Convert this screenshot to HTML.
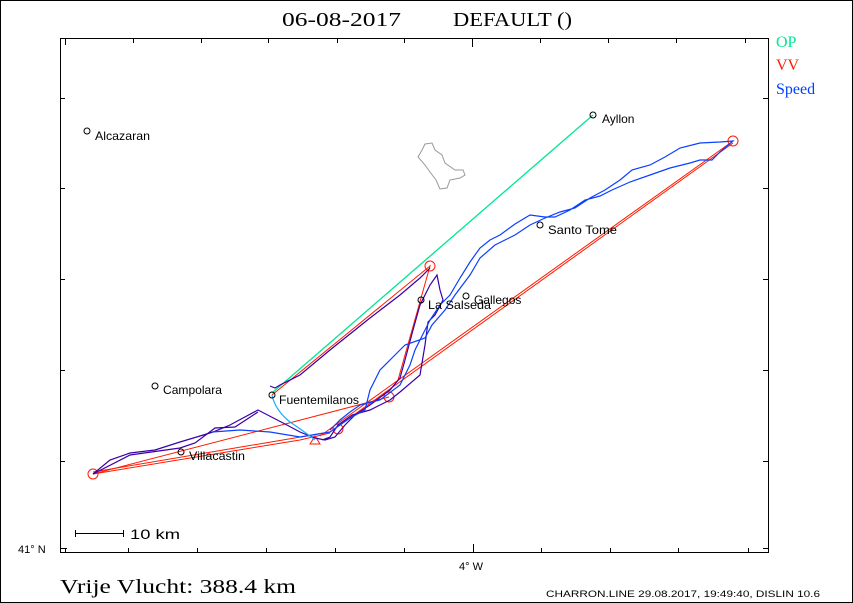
<!DOCTYPE html>
<html><head><meta charset="utf-8"><style>
html,body{margin:0;padding:0;background:#fff}
svg{display:block}
text{font-family:"Liberation Sans",sans-serif}
.s{font-family:"Liberation Serif",serif}
</style></head><body>
<svg width="853" height="603" viewBox="0 0 853 603" xmlns="http://www.w3.org/2000/svg">
<rect x="0.5" y="0.5" width="852" height="602" fill="#fff" stroke="#000"/>
<text x="282" y="26" class="s" font-size="20" fill="#000" textLength="119" lengthAdjust="spacingAndGlyphs">06-08-2017</text>
<text x="453" y="26" class="s" font-size="20" fill="#000" textLength="119" lengthAdjust="spacingAndGlyphs">DEFAULT ()</text>
<rect x="60.5" y="38.5" width="708" height="514" fill="none" stroke="#000"/>
<g stroke="#000" stroke-width="1">
<line x1="65.5" y1="38" x2="65.5" y2="45"/><line x1="133.5" y1="38" x2="133.5" y2="43"/><line x1="201.5" y1="38" x2="201.5" y2="43"/><line x1="268.5" y1="38" x2="268.5" y2="43"/><line x1="337.5" y1="38" x2="337.5" y2="43"/><line x1="404.5" y1="38" x2="404.5" y2="43"/><line x1="472.5" y1="38" x2="472.5" y2="47"/><line x1="540.5" y1="38" x2="540.5" y2="43"/><line x1="608.5" y1="38" x2="608.5" y2="43"/><line x1="676.5" y1="38" x2="676.5" y2="43"/><line x1="745.5" y1="38" x2="745.5" y2="43"/>
<line x1="65.5" y1="553" x2="65.5" y2="548"/><line x1="128.5" y1="553" x2="128.5" y2="548"/><line x1="197.5" y1="553" x2="197.5" y2="548"/><line x1="266.5" y1="553" x2="266.5" y2="548"/><line x1="335.5" y1="553" x2="335.5" y2="548"/><line x1="404.5" y1="553" x2="404.5" y2="548"/><line x1="473.5" y1="553" x2="473.5" y2="544"/><line x1="541.5" y1="553" x2="541.5" y2="548"/><line x1="610.5" y1="553" x2="610.5" y2="548"/><line x1="678.5" y1="553" x2="678.5" y2="548"/><line x1="748.5" y1="553" x2="748.5" y2="548"/>
<line x1="60" y1="98.5" x2="65" y2="98.5"/><line x1="60" y1="188.5" x2="65" y2="188.5"/><line x1="60" y1="279.5" x2="65" y2="279.5"/><line x1="60" y1="370.5" x2="65" y2="370.5"/><line x1="60" y1="461.5" x2="65" y2="461.5"/><line x1="60" y1="548.5" x2="67" y2="548.5"/>
<line x1="768" y1="98.5" x2="763" y2="98.5"/><line x1="768" y1="188.5" x2="763" y2="188.5"/><line x1="768" y1="279.5" x2="763" y2="279.5"/><line x1="768" y1="370.5" x2="763" y2="370.5"/><line x1="768" y1="461.5" x2="763" y2="461.5"/><line x1="768" y1="548.5" x2="763" y2="548.5"/>
<line x1="75" y1="533.5" x2="123" y2="533.5"/><line x1="75.5" y1="530" x2="75.5" y2="537"/><line x1="123.5" y1="530" x2="123.5" y2="537"/>
</g>
<text x="130" y="539" font-size="14" fill="#000" textLength="50" lengthAdjust="spacingAndGlyphs">10 km</text>
<text x="18" y="553" font-size="11" fill="#000">41° N</text>
<text x="459" y="570" font-size="11" fill="#000">4° W</text>
<text x="60" y="593" class="s" font-size="20" fill="#000" textLength="236" lengthAdjust="spacingAndGlyphs">Vrije Vlucht:  388.4 km</text>
<text x="546" y="597" font-size="9" fill="#000" textLength="274" lengthAdjust="spacingAndGlyphs">CHARRON.LINE 29.08.2017, 19:49:40, DISLIN 10.6</text>
<text x="776" y="47" class="s" font-size="16" fill="#00e890">OP</text>
<text x="776" y="70" class="s" font-size="16" fill="#ff2000">VV</text>
<text x="776" y="94" class="s" font-size="16" fill="#0040ff">Speed</text>
<path d="M425,144 L432,143 435,150 442,155 445,163 455,170 463,170 465,175 460,178 450,180 447,188 440,189 436,180 430,172 425,165 418,157 422,150 Z" fill="none" stroke="#999"/>
<line x1="272" y1="393" x2="593" y2="115" stroke="#00e890" stroke-width="1.3"/>
<g stroke="#ff1a00" fill="none" stroke-width="1">
<polyline points="93,474 389,397"/><polyline points="93,472 330,432"/><polyline points="272,395 430,266 398,380"/>
<polyline points="320,436 733,141"/><polyline points="330,432 733,143"/><polyline points="93,474 300,440 330,433"/>
<circle cx="93" cy="474" r="5"/><circle cx="430" cy="266" r="5"/><circle cx="389" cy="397" r="5"/><circle cx="733" cy="141" r="5"/><circle cx="338" cy="429" r="5"/>
<polygon points="315,436 310,444 320,444"/>
</g>
<g stroke="#3a00a8" fill="none" stroke-width="1.2">
<polyline points="93,474 110,460 130,453 155,450 180,442 200,436 213,432 230,425 258,410 285,424 300,432 315,438 325,440 335,437 345,425 355,415 370,405 390,390 400,378 405,360 413,330 420,305 430,285 437,275 440,290 443,300 435,315 428,322 425,345 420,375 400,392 390,400 370,410 352,415 338,425 330,437 322,440"/>
<polyline points="93,474 130,455 180,448 195,443 215,428 235,427 258,412"/>
<polyline points="270,386 275,388 280,385 300,375 330,350 370,318 400,295 420,278 430,268"/>
</g>
<g stroke="#0a40ff" fill="none" stroke-width="1.2">
<polyline points="212,432 240,430 270,432 300,437 330,432 350,418 365,410 370,390 380,370 395,355 405,345 425,338 432,325 445,310 455,295 470,275 480,258 495,245 515,235 530,225 545,218 560,212 575,208 590,198 605,190 620,180 632,170 650,165 665,157 680,148 700,143 720,142 733,141 720,152 712,160 700,160 690,163 670,168 650,175 630,182 612,190 600,196 585,200 570,210 555,217 545,217 530,215 515,224 500,235 490,240 480,248 470,262 460,278 450,295 440,305 430,320 420,340 415,350 410,365 400,385 380,400 360,405 350,412 340,420 330,430"/>
</g>
<path d="M272,395 Q275,410 290,422 Q305,432 315,440" stroke="#10b0ff" fill="none" stroke-width="1.2"/>
<g fill="none" stroke="#000" stroke-width="1">
<circle cx="87" cy="131" r="3"/><circle cx="593" cy="115" r="3"/><circle cx="540" cy="225" r="3"/><circle cx="466" cy="296" r="3"/><circle cx="421" cy="300" r="3"/><circle cx="155" cy="386" r="3"/><circle cx="272" cy="395" r="3"/><circle cx="181" cy="452" r="3"/>
</g>
<g font-size="12" fill="#000">
<text x="95" y="140" textLength="55" lengthAdjust="spacingAndGlyphs">Alcazaran</text><text x="602" y="123">Ayllon</text><text x="548" y="234" textLength="69" lengthAdjust="spacingAndGlyphs">Santo Tome</text><text x="474" y="304">Gallegos</text><text x="428" y="309" textLength="63" lengthAdjust="spacingAndGlyphs">La Salseda</text><text x="163" y="394" textLength="59" lengthAdjust="spacingAndGlyphs">Campolara</text><text x="279" y="404" textLength="80" lengthAdjust="spacingAndGlyphs">Fuentemilanos</text><text x="189" y="460" textLength="56" lengthAdjust="spacingAndGlyphs">Villacastin</text>
</g>
</svg>
</body></html>
